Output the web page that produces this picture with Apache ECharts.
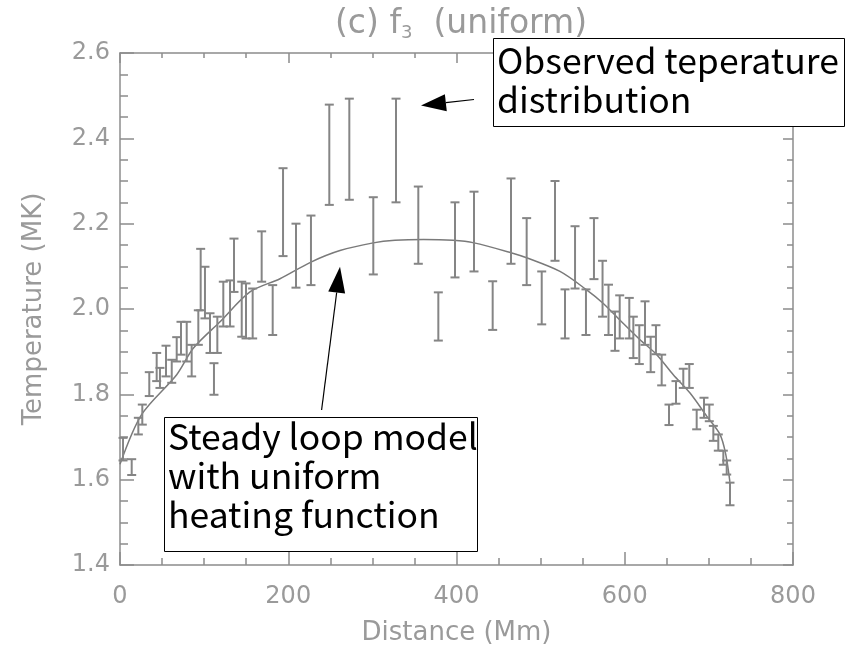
<!DOCTYPE html>
<html>
<head>
<meta charset="utf-8">
<script src="https://cdn.jsdelivr.net/npm/echarts@6/dist/echarts.min.js"></script>
<style>
html,body{margin:0;padding:0;background:#fff;}
#chart{width:851px;height:651px;}
</style>
</head>
<body>
<div id="chart"></div>
<script>
// ---- Observed temperature error bars (distance in Mm, temperature in MK) ----
const barX = [3.6, 13.9, 21.8, 26.5, 34.8, 43.6, 47.5, 54.7, 61.5, 67.4,
  72.5, 79.3, 85.2, 93.1, 95.9, 101, 107, 111.7, 115.7, 122.8,
  130.8, 135.5, 144.7, 149.8, 157.7, 168.4, 181.5, 193.8, 209.2, 227,
  248.8, 272.6, 301.1, 328.1, 354.6, 378.4, 398.2, 420.8, 443, 464.8,
  483.4, 501.3, 517.1, 529, 540.9, 553.9, 563.4, 573.6, 580.7, 588.4,
  594, 605.4, 610.2, 617.3, 624.1, 630.8, 637.1, 643.9, 652.6, 660.9,
  669.6, 676.7, 685.5, 694.2, 700.5, 705.3, 711.2, 717.2, 721.2, 725.1];
const barLow = [1.645, 1.611, 1.706, 1.729, 1.796, 1.831, 1.815, 1.842, 1.827, 1.877,
  1.893, 1.877, 1.842, 1.916, 1.997, 1.978, 1.897, 1.799, 1.897, 1.959,
  1.959, 2.040, 1.935, 1.931, 1.931, 2.064, 1.939, 2.124, 2.050, 2.056,
  2.244, 2.256, 2.081, 2.250, 2.106, 1.926, 2.074, 2.088, 1.951, 2.106,
  2.056, 1.964, 2.113, 1.931, 2.048, 1.939, 2.070, 1.982, 1.939, 1.902,
  1.931, 1.931, 1.885, 1.871, 1.916, 1.852, 1.894, 1.821, 1.728, 1.778,
  1.815, 1.815, 1.718, 1.745, 1.737, 1.691, 1.668, 1.635, 1.612, 1.540];
const barHigh = [1.698, 1.648, 1.745, 1.776, 1.852, 1.897, 1.862, 1.914, 1.881, 1.934,
  1.970, 1.970, 1.916, 1.997, 2.141, 2.099, 1.990, 1.873, 1.982, 2.064,
  2.067, 2.165, 2.064, 2.060, 2.048, 2.182, 2.056, 2.330, 2.200, 2.219,
  2.479, 2.493, 2.262, 2.493, 2.287, 2.039, 2.250, 2.275, 2.065, 2.306,
  2.213, 2.088, 2.300, 2.046, 2.194, 2.046, 2.213, 2.113, 2.057, 1.994,
  2.032, 2.026, 1.982, 1.962, 2.018, 1.935, 1.962, 1.893, 1.776, 1.831,
  1.860, 1.871, 1.764, 1.792, 1.776, 1.726, 1.706, 1.668, 1.645, 1.593];

// ---- Steady loop model (uniform heating) ----
const modelX = [0, 25.8, 67.4, 87.1, 118.9, 154.5, 190.2, 227, 261.5, 301.1,
  326.9, 361, 395.8, 420.8, 464.8, 483.4, 523, 553.9, 574.5, 598.3,
  618.1, 638, 657.7, 677.6, 697.4, 713.2, 720, 725];
const modelT = [1.636, 1.753, 1.846, 1.908, 1.970, 2.040, 2.071, 2.110, 2.137, 2.155,
  2.161, 2.163, 2.161, 2.155, 2.132, 2.120, 2.088, 2.046, 2.013, 1.966,
  1.928, 1.893, 1.846, 1.803, 1.749, 1.706, 1.660, 1.595];

// ---- Axes ----
const xMin = 0, xMax = 800, xStep = 200;
const yMin = 1.4, yMax = 2.6, yStep = 0.2;

const titleText = '(c) f{s|3}  (uniform)';
const xName = 'Distance (Mm)';
const yName = 'Temperature (MK)';
const note1 = 'Observed teperature\ndistribution';
const note2 = 'Steady loop model\nwith uniform\nheating function';

const AX = '#8c8c8c';
const LAB = '#9a9a9a';
const axisFont = 'DejaVu Sans';

const barData = barX.map((x, i) => [x, barLow[i], barHigh[i]]);
const modelData = modelX.map((x, i) => [x, modelT[i]]);

function xAxisCfg(bottom) {
  return {
    type: 'value', position: bottom ? 'bottom' : 'top',
    min: xMin, max: xMax, interval: xStep,
    axisLine: {show: true, onZero: false, lineStyle: {color: AX, width: 1.5}},
    axisTick: {show: true, inside: true, length: bottom ? 13 : 10, lineStyle: {color: AX, width: 1.5}},
    minorTick: {show: true, splitNumber: 4, length: bottom ? 7 : 5, lineStyle: {color: AX, width: 1.5}},
    splitLine: {show: false},
    axisLabel: {show: bottom, color: LAB, fontSize: 24, fontFamily: axisFont, margin: 20},
    name: bottom ? xName : '', nameLocation: 'middle', nameGap: 55,
    nameTextStyle: {color: LAB, fontSize: 26, fontFamily: axisFont}
  };
}
function yAxisCfg(left) {
  return {
    type: 'value', position: left ? 'left' : 'right',
    min: yMin, max: yMax, interval: yStep,
    axisLine: {show: true, onZero: false, lineStyle: {color: AX, width: 1.5}},
    axisTick: {show: true, inside: true, length: left ? 14 : 10, lineStyle: {color: AX, width: 1.5}},
    minorTick: {show: true, splitNumber: 4, length: left ? 8 : 6, lineStyle: {color: AX, width: 1.5}},
    splitLine: {show: false},
    axisLabel: {show: left, color: LAB, fontSize: 24, fontFamily: axisFont, margin: 10,
      formatter: v => v.toFixed(1)},
    name: left ? yName : '', nameLocation: 'middle', nameGap: 73, nameRotate: 90,
    nameTextStyle: {color: LAB, fontSize: 26, fontFamily: axisFont}
  };
}

function arrow(tail, tip, len, half) {
  const dx = tip[0] - tail[0], dy = tip[1] - tail[1];
  const d = Math.hypot(dx, dy), ux = dx / d, uy = dy / d;
  const bx = tip[0] - ux * len, by = tip[1] - uy * len;
  return [
    {type: 'line', shape: {x1: tail[0], y1: tail[1], x2: bx, y2: by}, style: {stroke: '#000', lineWidth: 1.2}, z: 100},
    {type: 'polygon', shape: {points: [tip, [bx - uy * half, by + ux * half], [bx + uy * half, by - ux * half]]},
      style: {fill: '#000'}, z: 100}
  ];
}

const noteFont = '35.5px "Noto Sans CJK JP"';

const chart = echarts.init(document.getElementById('chart'), null, {renderer: 'canvas'});
chart.setOption({
  backgroundColor: '#fff',
  animation: false,
  title: {
    text: titleText, left: 330, top: 2,
    textStyle: {color: LAB, fontSize: 33, fontWeight: 'normal', fontFamily: axisFont,
      rich: {s: {color: LAB, fontSize: 18, fontFamily: axisFont, padding: [17, 0, 0, 0]}}}
  },
  grid: {left: 120, right: 58, top: 53, bottom: 83},
  xAxis: [xAxisCfg(true), xAxisCfg(false)],
  yAxis: [yAxisCfg(true), yAxisCfg(false)],
  series: [
    {
      type: 'line', data: modelData, smooth: 0.3, showSymbol: false, xAxisIndex: 0, yAxisIndex: 0,
      lineStyle: {color: '#7a7a7a', width: 1.5}, z: 3
    },
    {
      type: 'custom', data: barData, xAxisIndex: 0, yAxisIndex: 0, z: 4,
      encode: {x: 0, y: [1, 2]},
      renderItem: function (params, api) {
        const x = api.value(0);
        const lo = api.coord([x, api.value(1)]);
        const hi = api.coord([x, api.value(2)]);
        const w = 4.5;
        const st = {stroke: '#858585', lineWidth: 2};
        return {
          type: 'group',
          children: [
            {type: 'line', shape: {x1: lo[0], y1: lo[1], x2: hi[0], y2: hi[1]}, style: st},
            {type: 'line', shape: {x1: lo[0] - w, y1: lo[1], x2: lo[0] + w, y2: lo[1]}, style: st},
            {type: 'line', shape: {x1: hi[0] - w, y1: hi[1], x2: hi[0] + w, y2: hi[1]}, style: st}
          ]
        };
      }
    }
  ],
  graphic: [
    {type: 'rect', shape: {x: 493.5, y: 38.5, width: 351, height: 88}, style: {fill: '#fff', stroke: '#000', lineWidth: 1}, z: 90},
    {type: 'text', x: 497, y: 41, style: {text: note1, font: noteFont, lineHeight: 39, fill: '#000', textVerticalAlign: 'top'}, z: 91},
    {type: 'rect', shape: {x: 164.5, y: 417.5, width: 313, height: 134}, style: {fill: '#fff', stroke: '#000', lineWidth: 1}, z: 90},
    {type: 'text', x: 168, y: 417.5, style: {text: note2, font: noteFont, lineHeight: 39, fill: '#000', textVerticalAlign: 'top'}, z: 91},
    ...arrow([474, 99.5], [421, 105.5], 25, 8.5),
    ...arrow([321.6, 410], [340, 266.7], 26, 8.5)
  ]
});
</script>
</body>
</html>
